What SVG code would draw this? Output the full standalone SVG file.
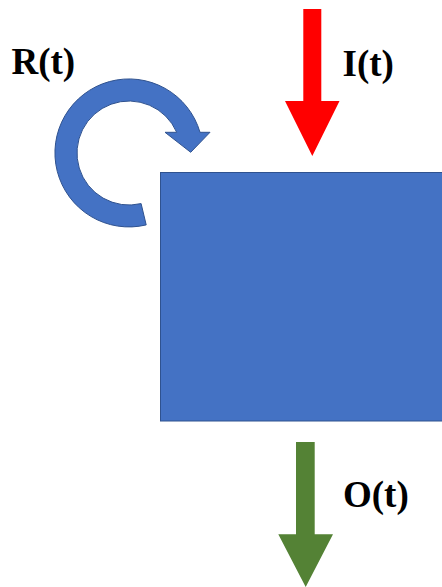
<svg xmlns="http://www.w3.org/2000/svg" width="442" height="587" viewBox="0 0 442 587">
<style>
.blue{fill:#4472C4;stroke:#2F528F;stroke-width:1}
</style>
<rect width="442" height="587" fill="#fff"/>
<g id="system">
<rect class="blue" x="160.5" y="172.5" width="290" height="248.5"/>
</g>
<g id="connectors">
<g id="recycle">
<path class="blue" d="M146.2,224.9 A74,74 0 1 1 200,132.3 L210,132.3 L190.7,152.3 L165,132.3 L176.7,132.3 A52,52 0 1 0 141.1,203.6 Z"/>
</g>
<g id="input">
<polygon fill="#FF0000" points="303.3,9 321.3,9 321.3,101 339.5,101 312.3,156 285,101 303.3,101"/>
</g>
<g id="output">
<polygon fill="#548235" points="296,442 314.7,442 314.7,534.3 333,534.3 305.7,587 278.3,534.3 296,534.3"/>
</g>
</g>
<g id="labels" font-family="Liberation Serif, serif" font-weight="700" font-size="37" fill="#000">
<text x="11.5" y="74">R(t)</text>
<text x="342.5" y="75.5">I(t)</text>
<text x="343" y="507">O(t)</text>
</g>
</svg>
